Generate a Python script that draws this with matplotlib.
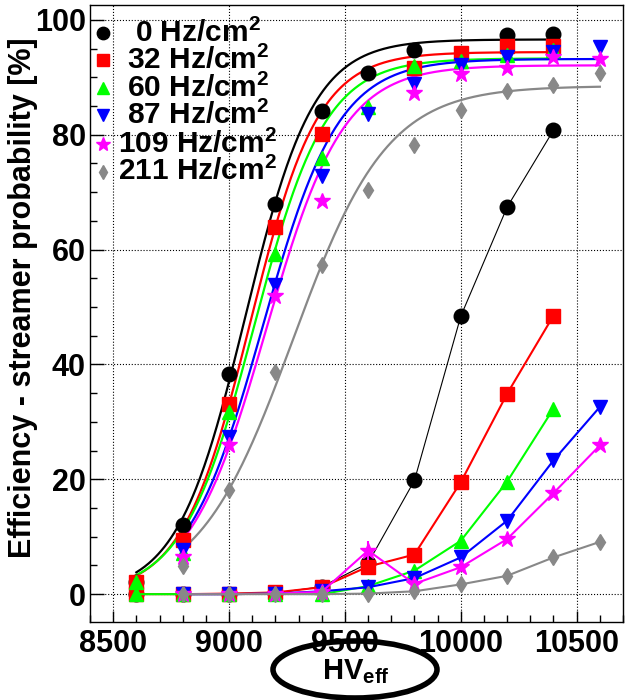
import numpy as np
import matplotlib
matplotlib.use('Agg')
import matplotlib.pyplot as plt
from matplotlib.patches import Ellipse
from matplotlib.ticker import MultipleLocator

plt.rcParams['font.family'] = 'Liberation Sans'
plt.rcParams['font.weight'] = 'bold'
plt.rcParams['mathtext.fontset'] = 'custom'
plt.rcParams['mathtext.rm'] = 'Liberation Sans:bold'
plt.rcParams['mathtext.it'] = 'Liberation Sans:bold'
plt.rcParams['mathtext.bf'] = 'Liberation Sans:bold'

nan = np.nan

# effective high voltage [V]
hv = [8600, 8800, 9000, 9200, 9400, 9600, 9800, 10000, 10200, 10400, 10600]

# efficiency [%] per background rate
eff_0 = [2.2, 12.1, 38.3, 67.9, 84.2, 90.7, 94.8, nan, 97.4, 97.5, nan]
eff_32 = [2.2, 9.5, 33.1, 63.9, 80.2, nan, 91.7, 94.3, 95.5, 95.5, nan]
eff_60 = [2.2, 7.2, 31.7, 59.3, 75.9, 84.8, 92.0, 92.9, 93.9, 94.8, nan]
eff_87 = [nan, 7.7, 27.4, 53.9, 72.8, 83.6, 88.8, 92.2, 93.5, 94.4, 95.2]
eff_109 = [nan, 6.4, 26.0, 51.9, 68.5, nan, 87.2, 90.5, 91.6, 93.5, 93.2]
eff_211 = [nan, 4.9, 18.2, 38.7, 57.4, 70.4, 78.2, 84.4, 87.6, 88.6, 90.8]

# streamer probability [%]
str_0 = [0.0, 0.0, 0.1, 0.2, 1.3, 5.4, 19.8, 48.4, 67.4, 80.8, nan]
str_32 = [0.0, 0.0, 0.1, 0.3, 1.2, 4.8, 6.9, 19.5, 34.9, 48.5, nan]
str_60 = [0.0, 0.0, 0.0, 0.1, 0.0, 1.4, 4.1, 9.3, 19.6, 32.3, nan]
str_87 = [nan, 0.0, 0.0, 0.1, 0.5, 1.2, 2.8, 6.4, 12.8, 23.3, 32.6]
str_109 = [nan, 0.0, 0.0, 0.1, 0.4, 7.6, 1.8, 4.7, 9.6, 17.6, 25.9]
str_211 = [nan, 0.0, 0.0, 0.0, 0.0, 0.1, 0.5, 1.7, 3.2, 6.4, 9.1]
str_err_109 = [0, 0, 0, 0, 0, 1.7, 0, 0, 0, 0, 0]

# sigmoid fit parameters: plateau, slope, HV at 50%, fit range
plateau = [96.6, 94.4, 93.3, 93.2, 92.1, 88.5]
slope = [0.0068, 0.0068, 0.0065, 0.0061, 0.0060, 0.0049]
hv50 = [9070, 9091, 9108, 9145, 9160, 9275]
fit_lo = [8600, 8600, 8600, 8800, 8800, 8800]
fit_hi = [10400, 10400, 10400, 10600, 10600, 10600]

rates = ['0', '32', '60', '87', '109', '211']
effs = [eff_0, eff_32, eff_60, eff_87, eff_109, eff_211]
strs = [str_0, str_32, str_60, str_87, str_109, str_211]
errs = [None, None, None, None, str_err_109, None]

colors = ['black', '#ff0000', '#00ff00', '#0000ff', '#ff00ff', '#888888']
markers = ['o', 's', '^', 'v', '*', 'd']
msizes = [10.5, 10, 10, 10, 12, 8.5]
str_lw = [0.8, 1.5, 1.5, 1.5, 1.5, 1.5]

fig = plt.figure(figsize=(6.28, 7.0), dpi=100)
ax = fig.add_axes([90/628, 1 - 622.3/700, 533/628, 617.3/700])

for i in range(6):
    c = colors[i]
    x = np.linspace(fit_lo[i], fit_hi[i], 400)
    y = plateau[i] / (1 + np.exp(-slope[i] * (x - hv50[i])))
    ax.plot(x, y, color=c, lw=1.6, zorder=2)
    ax.plot(hv, effs[i], ls='none', marker=markers[i], ms=msizes[i],
            color=c, mec=c, zorder=3 + i)
    if errs[i] is not None:
        ax.errorbar(hv, strs[i], yerr=errs[i], color=c, lw=str_lw[i],
                    marker=markers[i], ms=msizes[i], mec=c, zorder=3 + i)
    else:
        ax.plot(hv, strs[i], color=c, lw=str_lw[i], marker=markers[i],
                ms=msizes[i], mec=c, zorder=3 + i)

ax.set_xlim(8400, 10700)
ax.set_ylim(-4.9, 102.6)
ax.xaxis.set_major_locator(MultipleLocator(500))
ax.xaxis.set_minor_locator(MultipleLocator(100))
ax.yaxis.set_major_locator(MultipleLocator(20))
ax.yaxis.set_minor_locator(MultipleLocator(5))
ax.grid(True, which='major', ls=':', color='black', lw=0.8)
ax.tick_params(which='both', direction='in', top=False, right=False,
               labelsize=22, width=1)
ax.tick_params(axis='x', which='major', length=8, pad=5)
ax.tick_params(axis='x', which='minor', length=5)
ax.tick_params(axis='y', which='major', length=10, pad=3)
ax.tick_params(axis='y', which='minor', length=5)
for s in ax.spines.values():
    s.set_linewidth(1)

# legend
rows = [33.3, 60, 88.3, 115, 144, 171.7]
for i in range(6):
    yf = (622.3 - rows[i]) / 617.3
    ax.plot([(103 - 90) / 533], [yf], transform=ax.transAxes, clip_on=False,
            marker=markers[i], ms=msizes[i] * 0.85, color=colors[i],
            mec=colors[i], ls='none', zorder=20)
    ax.text((198 - 90) / 533, yf, rates[i] + ' Hz/cm$^2$', transform=ax.transAxes,
            ha='center', va='center', fontsize=21.5, fontweight='bold', zorder=20)

fig.text(23/628, 1 - 298/700, 'Efficiency - streamer probability [%]',
         rotation=90, ha='center', va='center', fontsize=22, fontweight='bold')

fig.text(356/628, 1 - 679/700, 'HV$_{eff}$', ha='center', va='baseline',
         fontsize=21, fontweight='bold')
fig.add_artist(Ellipse((355/628, 1 - 669.5/700), 164/628, 57/700,
                       transform=fig.transFigure, fill=False, lw=4,
                       color='black', clip_on=False))

fig.savefig('out.png', dpi=100)
